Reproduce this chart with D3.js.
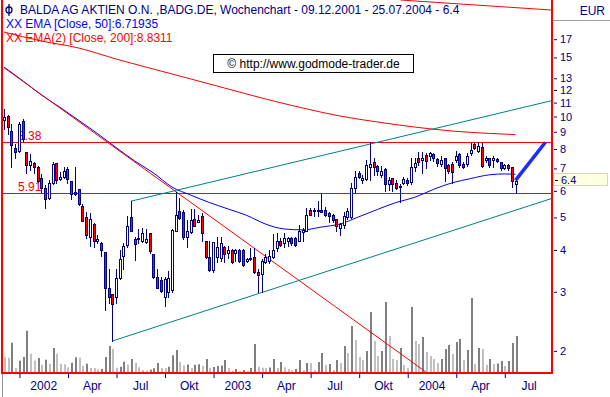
<!DOCTYPE html>
<html>
<head>
<meta charset="utf-8">
<script src="https://cdn.jsdelivr.net/npm/d3@7"></script>
<style>
  body { margin: 0; background: #fff; }
  svg text { font-family: "Liberation Sans", Arial, sans-serif; }
</style>
</head>
<body>
<div id="chart"></div>
<script>
// BALDA AG, weekly candles 09.12.2001 - 25.07.2004
const firstWeek = new Date(2001, 11, 9)

const opens = [9.74,10.05,9.06,8.08,7.89,9.7,7.83,7.17,7.29,7.09,6.54,6.12,5.71,6.34,7.26,6.5,6.6,6.98,6.43,5.96,
  6.07,5.41,5.01,4.38,4.77,4.24,4.19,3.94,3.09,2.95,2.89,3.29,3.83,4.14,5.01,4.31,4.31,4.26,4.23,4.5,
  3.88,3.33,3.26,2.9,3.0,3.04,4.56,5.22,5.2,4.36,4.52,4.93,4.85,5.05,4.24,3.81,3.48,3.81,3.78,4.07,
  3.91,4.0,3.91,4.0,4.0,3.71,3.76,3.81,3.44,3.38,3.69,3.71,3.81,4.05,4.26,4.19,4.26,4.35,4.35,4.26,
  4.52,4.56,5.26,5.26,5.22,5.25,5.26,5.14,5.09,4.93,4.65,4.75,5.0,5.0,6.12,6.77,6.47,6.51,7.09,7.34,
  7.14,6.7,6.98,6.29,6.54,6.34,6.22,6.34,6.47,6.38,7.09,7.5,7.42,7.68,7.64,7.72,7.47,7.2,7.5,7.17,
  7.2,7.42,7.72,7.22,7.2,7.77,8.27,7.89,8.13,7.42,7.5,7.42,7.47,7.31,7.04,7.17,7.06,6.28]
const highs = [10.53,10.1,9.47,8.28,9.64,9.81,7.85,7.72,7.34,7.14,6.73,6.25,6.47,7.34,7.29,6.82,7.09,7.06,6.43,7.09,
  6.07,5.5,5.19,5.16,4.8,4.43,4.21,3.94,3.51,2.95,3.51,4.0,4.19,5.04,5.6,4.38,4.63,4.65,4.63,4.5,
  3.88,3.51,3.33,3.33,3.45,4.62,5.95,5.71,5.26,4.91,5.28,5.28,5.09,5.16,4.24,4.24,4.21,4.38,4.38,4.1,
  4.1,4.03,4.03,4.03,4.03,3.79,4.06,4.06,3.51,3.76,3.9,4.0,4.46,4.49,4.35,4.49,4.38,4.38,4.38,4.75,
  4.65,5.33,5.33,5.33,5.58,5.91,5.38,5.2,5.11,4.96,4.8,5.2,5.33,6.35,6.86,6.86,6.7,7.42,8.38,7.5,
  7.17,7.14,7.01,6.62,6.57,6.47,6.27,6.62,6.57,7.54,7.5,7.83,7.83,7.77,7.85,7.77,7.5,7.6,7.54,7.2,
  7.34,7.89,7.77,7.31,7.77,8.38,8.33,8.38,8.33,7.6,7.54,7.6,7.5,7.34,7.2,7.2,7.06,6.47]
const lows = [9.2,8.85,7.06,7.54,7.85,8.39,6.77,6.93,6.77,6.37,5.95,5.32,5.68,6.28,6.34,6.47,6.54,6.34,5.68,5.84,
  5.45,4.88,4.35,4.1,4.08,4.19,3.83,2.65,2.77,2.14,2.77,3.27,3.51,4.08,4.54,3.73,4.19,4.23,4.19,3.91,
  3.29,3.07,3.0,2.72,2.89,3.0,4.54,4.95,4.31,4.08,4.49,4.71,4.83,4.24,3.78,3.46,3.43,3.69,3.7,3.69,
  3.78,3.65,3.71,3.69,3.59,3.69,3.73,3.42,3.0,3.0,3.65,3.65,3.78,3.96,4.1,4.08,4.1,4.14,4.1,4.24,
  4.26,4.54,5.07,5.04,5.04,5.18,5.04,4.86,4.86,4.54,4.43,4.65,4.95,4.99,5.91,6.54,6.34,6.47,6.47,6.7,
  6.7,6.6,6.0,6.04,5.98,6.07,5.56,6.28,6.25,6.31,6.86,7.17,6.77,7.02,7.42,7.37,7.12,7.12,6.43,6.77,
  6.34,7.31,7.09,7.02,7.14,7.68,8.0,7.85,7.09,7.34,7.09,7.09,7.31,6.93,6.98,6.93,6.18,5.91]
const closes = [9.98,9.32,8.23,7.83,9.47,8.56,7.17,7.37,7.05,6.43,6.12,5.68,6.34,7.2,6.45,6.62,6.86,6.51,5.88,5.88,
  5.47,4.89,4.43,4.95,4.25,4.31,4.01,3.09,2.89,2.76,3.31,3.76,4.1,4.72,4.54,4.16,4.34,4.5,4.31,3.96,
  3.33,3.09,3.02,3.28,3.3,4.59,5.1,4.97,4.38,4.54,4.91,4.72,4.91,4.49,3.81,3.48,4.21,4.09,4.19,3.88,
  4.0,3.69,4.0,3.71,3.61,3.75,3.79,3.43,3.37,3.71,3.81,3.84,4.0,4.26,4.15,4.35,4.34,4.19,4.14,4.56,
  4.59,5.1,5.1,5.22,5.26,5.2,5.09,5.04,4.91,4.72,4.77,5.04,5.22,6.14,6.62,6.62,6.54,7.17,7.2,7.09,
  6.86,6.86,6.29,6.48,6.29,6.12,6.17,6.51,6.34,7.06,7.29,7.31,7.5,7.37,7.77,7.5,7.25,7.42,7.04,6.86,
  6.82,7.6,7.17,7.09,7.6,7.95,8.08,8.19,7.14,7.54,7.17,7.5,7.37,7.02,7.17,7.02,6.43,6.4]
// weekly turnover (relative units)
const volumes = [147,143,293,40,113,150,413,183,113,140,73,123,83,240,183,83,77,47,93,147,
  143,60,83,40,39,23,30,150,260,230,43,53,103,73,130,93,47,20,13,23,
  37,90,40,39,53,167,220,100,67,75,40,73,77,63,130,40,50,60,65,120,
  40,13,30,10,20,13,40,280,53,43,40,45,130,40,100,47,30,20,30,120,
  20,90,90,20,100,190,70,80,20,120,90,260,190,460,320,150,120,210,600,310,
  160,210,700,360,130,120,240,70,40,650,310,280,350,200,160,130,90,130,230,270,
  180,300,330,120,220,740,80,240,230,70,130,80,85,110,60,110,290,360]

// moving averages: [week index, value]
const ema50Points = [[0,14.04],[5,12.79],[10,11.59],[15,10.65],[20,9.74],[25,8.9],[30,8.08],[35,7.37],
  [40,6.79],[45,6.16],[50,5.83],[55,5.54],[60,5.3],[65,5.07],[70,4.78],[75,4.62],[80,4.59],[85,4.68],
  [90,4.78],[95,5.02],[100,5.28],[105,5.54],[110,5.74],[115,6.06],[120,6.34],[125,6.53],[130,6.7],
  [134,6.74],[137,6.72]]
const ema200Points = [[0,17.86],[10,16.79],[20,16.0],[30,14.84],[40,13.85],[50,12.94],[60,12.08],
  [70,11.28],[80,10.6],[90,10.03],[100,9.63],[110,9.3],[120,9.05],[130,8.9],[137,8.83]]

// drawn lines: [week index, price]
const trendDown = [[0, 13.98], [113, 1.73]]
const channelTop = [[34, 5.59], [147, 11.17]]
const channelBottom = [[29, 2.14], [147, 5.71]]
const resistanceTop = [[106.2, 22.25], [146.6, 20.77]]
const projection = [[137, 6.45], [145, 8.38]]
const levels = [8.38, 5.91]

const yLabels = [2, 3, 4, 5, 6, 7, 8, 9, 10, 11, 12, 13, 15, 17]
const yMinor = [1.8, 2.2, 2.4, 2.6, 2.8, 3.2, 3.4, 3.6, 3.8, 4.2, 4.4, 4.6, 4.8, 5.5, 6.5, 7.5, 8.5, 9.5, 14, 16, 18, 19]
const lastPrice = 6.4
const monthNames = ['Jan', 'Feb', 'Mrz', 'Apr', 'Mai', 'Jun', 'Jul', 'Aug', 'Sep', 'Okt', 'Nov', 'Dez']

const red = '#ff0000', navy = '#000080', teal = '#008080', blue = '#0000ff'
const plot = { left: 3, right: 551, top: 0, bottom: 372 }
const font = '"Liberation Sans", Arial, sans-serif'

const weekDate = i => new Date(firstWeek.getTime() + i * 7 * 864e5)
const dates = closes.map((d, i) => weekDate(i))

const x = d3.scaleTime()
  .domain([weekDate(0), weekDate(137)])
  .range([4, 515.5])
const y = d3.scaleLog()
  .domain([1.73, 22.25])
  .range([plot.bottom, plot.top])
const yVol = d3.scaleLinear()
  .domain([0, 800])
  .range([plot.bottom, plot.bottom - 80])

const svg = d3.select('#chart')
  .append('svg')
  .attr('width', 610)
  .attr('height', 397)

svg.append('rect').attr('width', 610).attr('height', 397).attr('fill', '#fff')

svg.append('clipPath')
  .attr('id', 'plotclip')
  .append('rect')
  .attr('x', plot.left)
  .attr('y', plot.top)
  .attr('width', plot.right - plot.left)
  .attr('height', plot.bottom - plot.top)

const g = svg.append('g').attr('clip-path', 'url(#plotclip)')

const px = d => Math.round(x(d))

// volume, dark when it rose against the week before
g.selectAll('.vol')
  .data(volumes)
  .enter()
  .append('rect')
  .attr('x', (d, i) => px(dates[i]))
  .attr('y', d => yVol(d))
  .attr('width', 2)
  .attr('height', d => plot.bottom - yVol(d))
  .attr('fill', (d, i) => (i > 0 && d > volumes[i - 1] ? '#808080' : '#c0c0c0'))

// support / resistance levels
levels.forEach(level => {
  g.append('line')
    .attr('x1', plot.left)
    .attr('x2', plot.right)
    .attr('y1', Math.round(y(level)) + 0.5)
    .attr('y2', Math.round(y(level)) + 0.5)
    .attr('stroke', red)
  g.append('text')
    .attr('x', 18)
    .attr('y', Math.round(y(level)) - 2)
    .attr('fill', red)
    .style('font-size', '12px')
    .text(level.toFixed(2))
})

const line = d3.line()
  .x(d => x(weekDate(d[0])))
  .y(d => y(d[1]))

g.append('path')
  .datum(ema200Points)
  .attr('d', line.curve(d3.curveMonotoneX))
  .attr('fill', 'none')
  .attr('stroke', red)

g.append('path')
  .datum(ema50Points)
  .attr('d', line.curve(d3.curveMonotoneX))
  .attr('fill', 'none')
  .attr('stroke', blue)

line.curve(d3.curveLinear)
;[[trendDown, red], [resistanceTop, red], [channelTop, teal], [channelBottom, teal]].forEach(([pts, color]) => {
  g.append('path')
    .datum(pts)
    .attr('d', line)
    .attr('fill', 'none')
    .attr('stroke', color)
})

// candles
const candles = g.selectAll('.candle')
  .data(closes.map((c, i) => ({ date: dates[i], o: opens[i], h: highs[i], l: lows[i], c })))
  .enter()
  .append('g')

candles.append('line')
  .attr('x1', d => px(d.date) + 0.5)
  .attr('x2', d => px(d.date) + 0.5)
  .attr('y1', d => Math.round(y(d.h)))
  .attr('y2', d => Math.round(y(d.l)) + 1)
  .attr('stroke', navy)

candles.append('rect')
  .attr('x', d => px(d.date) - 0.5)
  .attr('y', d => Math.round(y(Math.max(d.o, d.c))) + 0.5)
  .attr('width', 2)
  .attr('height', d => Math.max(1, Math.round(y(Math.min(d.o, d.c))) - Math.round(y(Math.max(d.o, d.c)))))
  .attr('fill', d => (d.c >= d.o ? '#fff' : red))
  .attr('stroke', navy)

g.append('path')
  .datum(projection)
  .attr('d', line)
  .attr('fill', 'none')
  .attr('stroke', '#1a2cff')
  .attr('stroke-width', 3.5)

// frame
svg.append('path')
  .attr('d', `M${plot.left - 1},0V${plot.bottom + 1}H${plot.right + 1}V0`)
  .attr('fill', 'none')
  .attr('stroke', red)
  .attr('stroke-width', 2)
svg.append('line')
  .attr('x1', 2.5).attr('x2', 2.5)
  .attr('y1', plot.bottom + 2).attr('y2', 397)
  .attr('stroke', '#909090')

// right price axis
const axisG = svg.append('g').attr('transform', `translate(${plot.right + 3},0)`)
axisG.call(d3.axisRight(y).tickValues(yMinor).tickSize(1).tickFormat(''))
axisG.call(d3.axisRight(y).tickValues(yLabels).tickSize(3).tickPadding(3).tickFormat(d3.format('d')))
axisG.selectAll('.domain').remove()
axisG.selectAll('line').attr('stroke', navy)
axisG.selectAll('text').attr('fill', navy).style('font-size', '11px').style('font-family', font)

const lastG = svg.append('g').attr('transform', `translate(${plot.right + 2},${Math.round(y(lastPrice))})`)
lastG.append('rect')
  .attr('x', 0.5)
  .attr('y', -7.5)
  .attr('width', 54)
  .attr('height', 12)
  .attr('fill', '#ffffe1')
  .attr('stroke', '#d8d8c0')
lastG.append('line').attr('x1', 2).attr('x2', 5).attr('y1', -0.5).attr('y2', -0.5).attr('stroke', navy)
lastG.append('text')
  .attr('x', 8)
  .attr('y', 3)
  .attr('fill', navy)
  .style('font-size', '11px')
  .text(lastPrice)

svg.append('line').attr('x1', plot.right + 2).attr('x2', 610).attr('y1', 20.5).attr('y2', 20.5).attr('stroke', '#a0a0a0')
svg.append('text')
  .attr('x', 605)
  .attr('y', 15)
  .attr('text-anchor', 'end')
  .attr('fill', navy)
  .style('font-size', '12px')
  .text('EUR')

// time axis
const quarterStarts = dates.filter((d, i) => d.getMonth() % 3 === 0 && (i === 0 || dates[i - 1].getMonth() !== d.getMonth()))
quarterStarts.push(d3.timeWeek.ceil(new Date(2004, 9, 1)))
const xAxisG = svg.append('g').attr('transform', `translate(0,${plot.bottom + 1})`)
xAxisG.call(d3.axisBottom(x).tickValues(quarterStarts.slice(0, -1)).tickSize(5).tickFormat(''))
xAxisG.selectAll('.domain').remove()
xAxisG.selectAll('line').attr('stroke', navy).attr('transform', 'translate(0.5,0)')

const labelDates = quarterStarts.slice(0, -1).map((d, i) => new Date((d.getTime() + quarterStarts[i + 1].getTime()) / 2))
const labelG = svg.append('g').attr('transform', `translate(0,${plot.bottom})`)
labelG.call(d3.axisBottom(x).tickValues(labelDates).tickSize(0).tickPadding(9)
  .tickFormat(d => (d.getMonth() < 3 ? d.getFullYear() : monthNames[Math.floor(d.getMonth() / 3) * 3])))
labelG.selectAll('.domain').remove()
labelG.selectAll('text').attr('fill', navy).style('font-size', '12px').style('font-family', font)

// header
const header = svg.append('g')
header.append('circle').attr('cx', 9).attr('cy', 10).attr('r', 3).attr('fill', 'none').attr('stroke', navy).attr('stroke-width', 1.3)
header.append('line').attr('x1', 9).attr('x2', 9).attr('y1', 4).attr('y2', 16).attr('stroke', navy).attr('stroke-width', 1.3)
header.append('text')
  .attr('x', 20)
  .attr('y', 14)
  .attr('fill', navy)
  .style('font-size', '12px')
  .text('BALDA AG AKTIEN O.N. ,BADG.DE, Wochenchart - 09.12.2001 - 25.07.2004 - 6.4')
header.append('text')
  .attr('x', 6)
  .attr('y', 28)
  .attr('fill', blue)
  .style('font-size', '12px')
  .text('XX EMA [Close, 50]:6.71935')
header.append('text')
  .attr('x', 6)
  .attr('y', 42)
  .attr('fill', red)
  .style('font-size', '12px')
  .text('XX EMA(2) [Close, 200]:8.8311')

// watermark
const wm = svg.append('g').attr('transform', 'translate(213.5,54.5)')
wm.append('rect').attr('width', 200).attr('height', 18).attr('fill', '#fff').attr('stroke', '#000')
wm.append('text')
  .attr('x', 100)
  .attr('y', 13)
  .attr('text-anchor', 'middle')
  .attr('fill', '#000')
  .style('font-size', '12px')
  .text('\u00a9 http://www.godmode-trader.de')
</script>
</body>
</html>
